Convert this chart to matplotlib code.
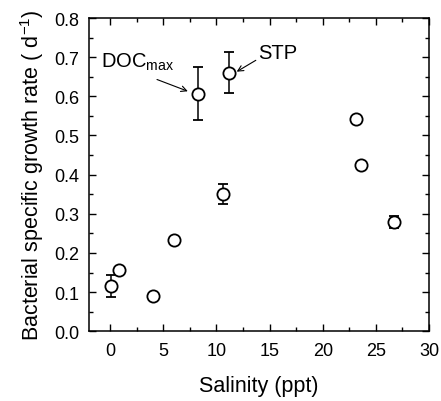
import matplotlib
matplotlib.use("Agg")
import matplotlib.pyplot as plt
from matplotlib.ticker import MultipleLocator

plt.rcParams['font.family'] = ['Liberation Sans', 'DejaVu Sans']
plt.rcParams['mathtext.fontset'] = 'custom'
plt.rcParams['mathtext.rm'] = 'Liberation Sans'
plt.rcParams['mathtext.it'] = 'Liberation Sans'
plt.rcParams['mathtext.bf'] = 'Liberation Sans'

salinity = [0.07, 0.85, 4.06, 6.0, 8.3, 10.6, 11.2, 23.1, 23.6, 26.7]
growth = [0.115, 0.157, 0.09, 0.233, 0.607, 0.35, 0.66, 0.542, 0.425, 0.28]
err = [0.028, 0.0, 0.0, 0.0, 0.067, 0.026, 0.052, 0.0, 0.0, 0.015]

fig = plt.figure(figsize=(4.41, 4.02), dpi=100)
ax = fig.add_axes([0.2018, 0.1734, 0.7710, 0.7793])

ax.errorbar(salinity, growth, yerr=err, fmt='o', mfc='white', mec='black',
            ms=8.8, mew=1.3, ecolor='black', elinewidth=1.1, capsize=3.5,
            capthick=1.1, zorder=3)

ax.set_xlim(-2, 30)
ax.set_ylim(0, 0.8)
ax.xaxis.set_major_locator(MultipleLocator(5))
ax.xaxis.set_minor_locator(MultipleLocator(2.5))
ax.yaxis.set_major_locator(MultipleLocator(0.1))
ax.yaxis.set_minor_locator(MultipleLocator(0.05))
ax.yaxis.set_major_formatter(matplotlib.ticker.FormatStrFormatter('%.1f'))
ax.tick_params(which='both', direction='in', top=True, right=True, width=1.0)
ax.tick_params(which='major', length=5, labelsize=13)
ax.tick_params(axis='x', which='major', pad=8)
ax.tick_params(axis='y', which='major', pad=7)
ax.tick_params(which='minor', length=3)
for s in ax.spines.values():
    s.set_linewidth(1.1)

ax.set_xlabel('Salinity (ppt)', fontsize=15.5, labelpad=11)
ax.set_ylabel('Bacterial specific growth rate ( d$^{-1}$)', fontsize=15.5, labelpad=6)

ax.text(-0.9, 0.69, 'DOC$_{\\mathrm{max}}$', fontsize=14.5, va='center', ha='left')
ax.text(13.9, 0.713, 'STP', fontsize=14.5, va='center', ha='left')
ax.annotate('', xy=(7.3, 0.613), xytext=(4.4, 0.643),
            arrowprops=dict(arrowstyle='->', lw=0.8, color='black',
                            shrinkA=0, shrinkB=0))
ax.annotate('', xy=(11.9, 0.663), xytext=(13.7, 0.692),
            arrowprops=dict(arrowstyle='->', lw=0.8, color='black',
                            shrinkA=0, shrinkB=0))

fig.savefig('out.png', dpi=100)
